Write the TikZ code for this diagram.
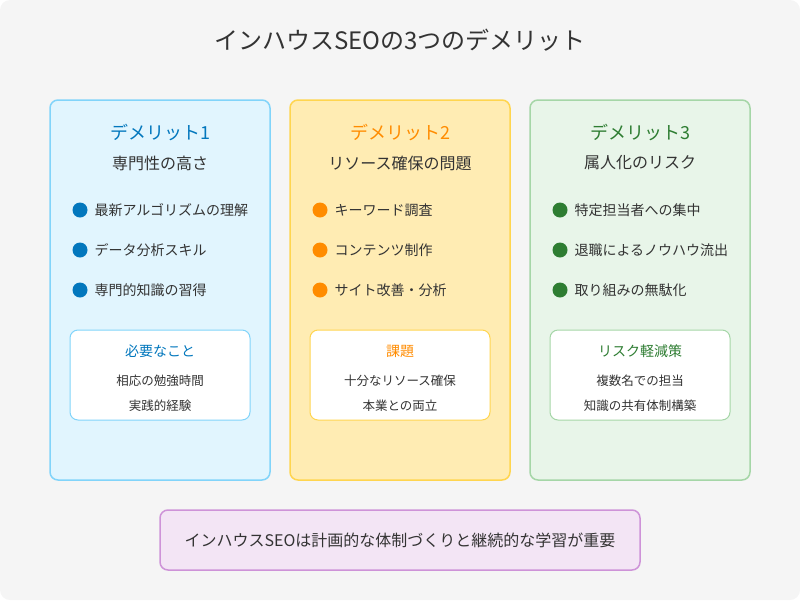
\documentclass[tikz,border=0pt]{standalone}
\usepackage{fontspec}
\setmainfont{Noto Sans CJK JP}
\begin{document}
\begin{tikzpicture}[x=1pt,y=-1pt,
 panel/.style={draw,rounded corners=8pt,line width=1.5pt},
 inner/.style={draw,fill=white,rounded corners=8pt,line width=1pt},
 ttl/.style={font=\fontsize{18}{21}\selectfont},
 sub/.style={font=\fontsize{16}{19}\selectfont,text=black!80},
 itm/.style={font=\fontsize{14}{16}\selectfont,anchor=west,text=black!80},
 dot/.style={circle,inner sep=0pt,minimum size=15pt},
 sml/.style={font=\fontsize{12.5}{14}\selectfont,text=black!80},
 hd/.style={font=\fontsize{14}{16}\selectfont}]
\definecolor{bgc}{HTML}{F5F5F5}
\definecolor{bf}{HTML}{E1F5FE}\definecolor{bs}{HTML}{81D4FA}\definecolor{bt}{HTML}{0277BD}
\definecolor{of}{HTML}{FFECB3}\definecolor{os}{HTML}{FFD54F}\definecolor{ot}{HTML}{FF8C00}
\definecolor{gf}{HTML}{E8F5E9}\definecolor{gs}{HTML}{A5D6A7}\definecolor{gt}{HTML}{2E7D32}
\definecolor{pf}{HTML}{F3E5F5}\definecolor{ps}{HTML}{CE93D8}
\useasboundingbox (0,0) rectangle (800,600);
\fill[bgc,rounded corners=10pt] (0,0) rectangle (800,600);
\node[font=\fontsize{24}{28}\selectfont,text=black!80] (title) at (400,40) {インハウスSEOの3つのデメリット};
\foreach \x/\f/\s/\t/\h/\sb/\a/\b/\c/\ih/\ia/\ib/\n in {
 50/bf/bs/bt/デメリット1/専門性の高さ/最新アルゴリズムの理解/データ分析スキル/専門的知識の習得/必要なこと/相応の勉強時間/実践的経験/a,
 290/of/os/ot/デメリット2/リソース確保の問題/キーワード調査/コンテンツ制作/サイト改善・分析/課題/十分なリソース確保/本業との両立/b,
 530/gf/gs/gt/デメリット3/属人化のリスク/特定担当者への集中/退職によるノウハウ流出/取り組みの無駄化/リスク軽減策/複数名での担当/知識の共有体制構築/c}{
 \draw[panel,draw=\s,fill=\f] (\x,100) rectangle ++(220,380);
 \node[ttl,text=\t] (h\n) at (\x+110,133) {\h};
 \node[sub] (s\n) at (\x+110,163) {\sb};
 \node[dot,fill=\t] (d1\n) at (\x+30,210) {};
 \node[itm] (i1\n) at (\x+41,210) {\a};
 \node[dot,fill=\t] (d2\n) at (\x+30,250) {};
 \node[itm] (i2\n) at (\x+41,250) {\b};
 \node[dot,fill=\t] (d3\n) at (\x+30,290) {};
 \node[itm] (i3\n) at (\x+41,290) {\c};
 \draw[inner,draw=\s] (\x+20,330) rectangle ++(180,90);
 \node[hd,text=\t] (k\n) at (\x+110,351) {\ih};
 \node[sml] (m\n) at (\x+110,381) {\ia};
 \node[sml] (n\n) at (\x+110,406) {\ib};
}
\draw[draw=ps,fill=pf,rounded corners=8pt,line width=1.5pt] (160,510) rectangle (640,570);
\node[font=\fontsize{16}{19}\selectfont,text=black!80] (foot) at (400,540) {インハウスSEOは計画的な体制づくりと継続的な学習が重要};
\end{tikzpicture}
\end{document}
